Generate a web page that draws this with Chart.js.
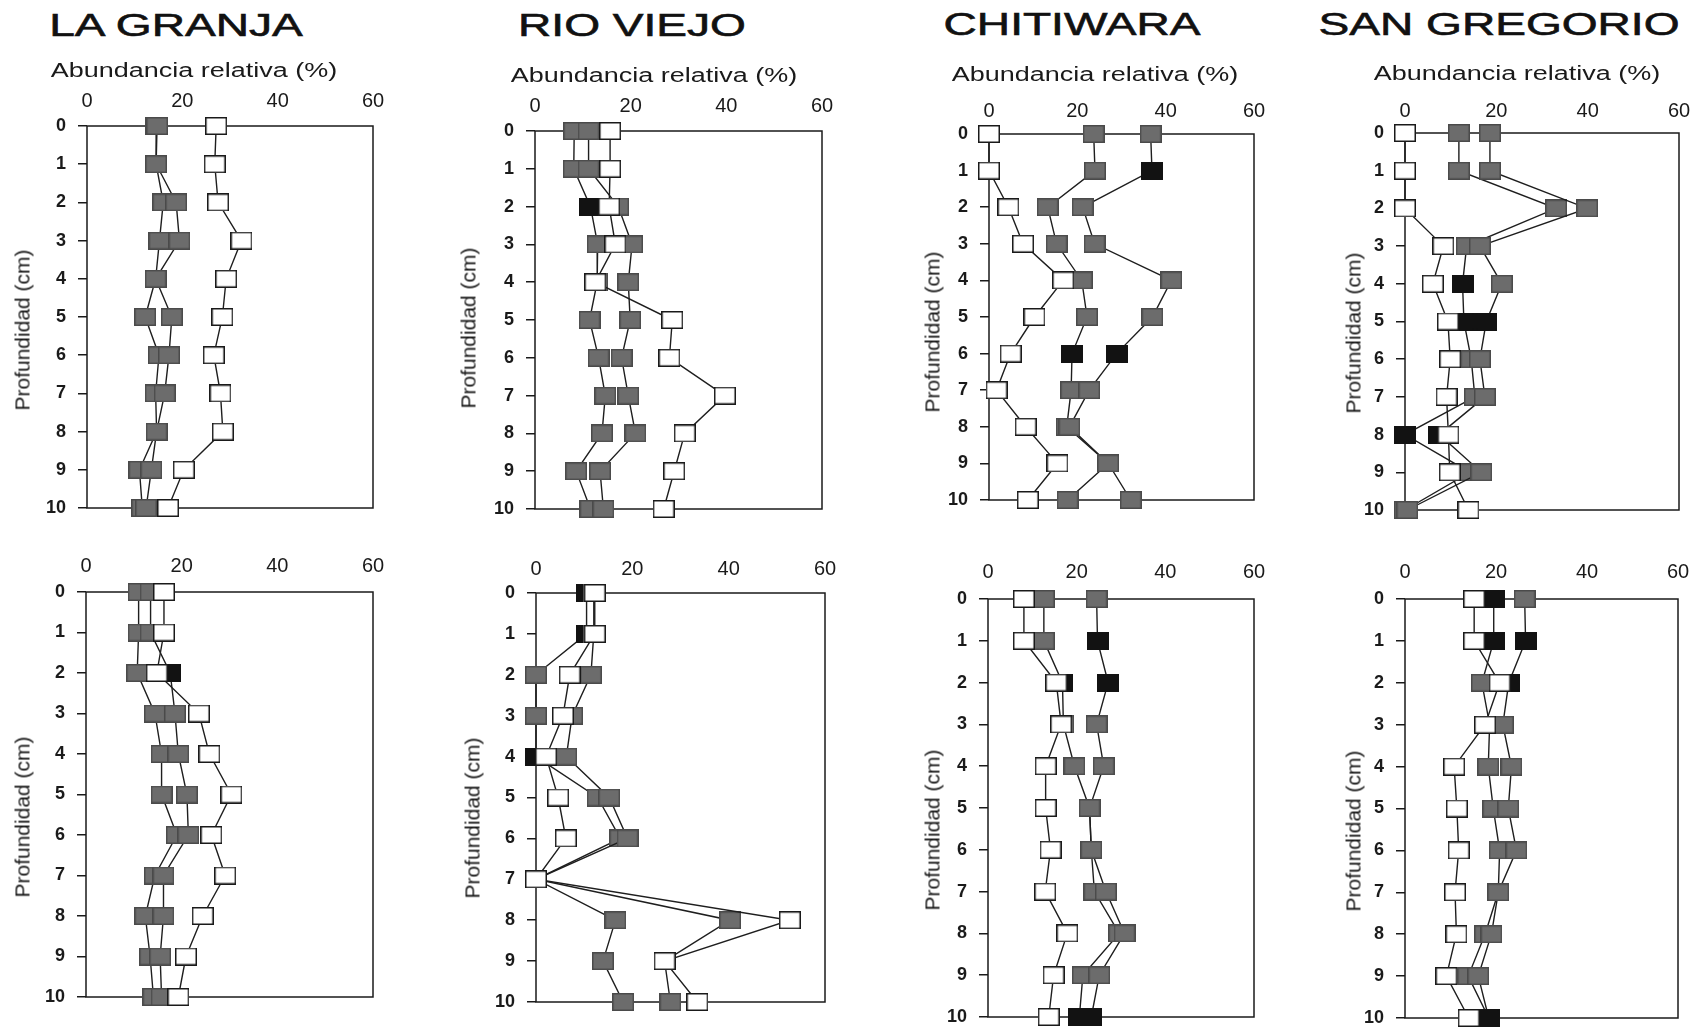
<!DOCTYPE html>
<html>
<head>
<meta charset="utf-8">
<title>Abundancia relativa por profundidad</title>
<script src="https://cdn.jsdelivr.net/npm/chart.js@4.4.1/dist/chart.umd.min.js"></script>
<style>
    body { margin: 0; width: 1705px; height: 1029px; background: #fff; position: relative; overflow: hidden;
           font-family: 'Liberation Sans', Arial, sans-serif; color: #1a1a1a; }
    canvas { position: absolute; }
    .lbl { position: absolute; white-space: nowrap; line-height: 1; }
    .site { font-size: 32px; color: #111; -webkit-text-stroke: 0.6px #111; }
    .xtitle { font-size: 20px; }
    .ytitle { font-size: 21px; }
</style>
</head>
<body>

<script>
/* =========================================================
   DATA
========================================================= */
const depths = [0, 1, 2, 3, 4, 5, 6, 7, 8, 9, 10];
const xTicks = [0, 20, 40, 60];
const depthTicks = [0, 1, 2, 3, 4, 5, 6, 7, 8, 9, 10];

const siteNames = ['LA GRANJA', 'RIO VIEJO', 'CHITIWARA', 'SAN GREGORIO'];
const xAxisTitle = 'Abundancia relativa (%)';
const yAxisTitle = 'Profundidad (cm)';

// top row
const granjaTopWhite = [27.1, 26.8, 27.5, 32.4, 29.2, 28.4, 26.6, 28, 28.5, 20.3, 17];
const granjaTopGrayA = [14.5, 14.5, 16, 15.2, 14.4, 12.2, 15.1, 14.4, 14.6, 11, 11.6];
const granjaTopGrayB = [14.7, 14.5, 18.7, 19.4, 14.4, 17.8, 17.2, 16.3, 14.6, 13.5, 12.4];

const rioTopWhite = [15.7, 15.7, 15.5, 16.8, 12.6, 28.7, 28.1, 39.7, 31.3, 29.1, 26.9];
const rioTopGrayA = [8.2, 8.1, 11.6, 13.1, 13, 11.4, 13.3, 14.7, 14, 8.6, 11.6];
const rioTopGrayB = [11.2, 11.2, 17.4, 20.3, 19.5, 19.9, 18.1, 19.5, 21, 13.6, 14.3];

const chitiTopWhite = [0, 0, 4.4, 7.7, 16.8, 10.3, 4.9, 1.7, 8.3, 15.5, 8.8];
const chitiTopGrayA = [23.7, 24, 13.3, 15.3, 21, 22.2, 18.8, 18.6, 17.6, 27, 17.8];
const chitiTopGrayB = [36.6, 36.9, 21.2, 23.9, 41.3, 37, 28.9, 22.7, 18.2, 27, 32.1];

const gregTopWhite = [0, 0, 0, 8.4, 6.1, 9.4, 9.9, 9.1, 9.5, 9.8, 13.9];
const gregTopGrayA = [11.8, 11.8, 33.1, 13.5, 12.6, 12.9, 14.5, 15.3, 0, 14.2, 0];
const gregTopGrayB = [18.6, 18.6, 39.9, 16.4, 21.2, 17.8, 16.4, 17.5, 7.5, 16.7, 0.5];

// bottom row
const granjaBotWhite = [16.3, 16.3, 14.8, 23.6, 25.8, 30.4, 26.2, 29.1, 24.4, 20.9, 19.3];
const granjaBotGrayA = [11, 11, 10.7, 14.4, 15.8, 15.8, 19, 14.4, 12.4, 13.4, 14.1];
const granjaBotGrayB = [13.5, 13.5, 17.6, 18.6, 19.3, 21.1, 21.4, 16.2, 16.2, 15.5, 15.8];

const rioBotWhite = [12.2, 12.2, 7, 5.6, 2.1, 4.6, 6.2, 0, 52.7, 26.7, 33.5];
const rioBotGrayA = [10.5, 10.5, 0, 0, 0, 12.8, 17.5, 0, 16.5, 13.9, 18.1];
const rioBotGrayB = [12, 12, 11.4, 7.5, 6.3, 15.2, 19, 0, 40.3, 26.7, 27.9];

const chitiBotWhite = [8.1, 8.1, 15.4, 16.5, 13, 13, 14.1, 12.9, 17.9, 14.8, 13.7];
const chitiBotGrayA = [12.6, 12.6, 16.8, 17, 19.5, 22.9, 23.3, 24, 29.6, 21.4, 20.6];
const chitiBotGrayB = [24.5, 24.7, 27.1, 24.5, 26.1, 22.9, 23.3, 26.6, 30.8, 25.1, 23.3];

const gregBotWhite = [15.2, 15.2, 20.8, 17.6, 10.8, 11.4, 11.8, 11, 11.3, 9.1, 14];
const gregBotGrayA = [19.5, 19.5, 16.9, 18.6, 18.3, 19.4, 20.8, 20.5, 17.6, 13.9, 18.4];
const gregBotGrayB = [26.3, 26.5, 22.8, 21.5, 23.4, 22.7, 24.5, 20.5, 19, 16.1, 18.4];

/* =========================================================
   PANEL LAYOUT (plot box = [left, top, right, bottom] in page px)
   dark = depths whose marker prints solid black in the scan
========================================================= */
const panels = [
    { site: 0, box: [87, 126, 373, 508], tickPad: 5, xTitle: [194, 70], yTitle: [22, 330],
      white: granjaTopWhite, grayA: granjaTopGrayA, grayB: granjaTopGrayB, darkA: [], darkB: [] },
    { site: 1, box: [535, 131, 822, 509], tickPad: 5, xTitle: [654, 75], yTitle: [468, 328],
      white: rioTopWhite, grayA: rioTopGrayA, grayB: rioTopGrayB, darkA: [2], darkB: [] },
    { site: 2, box: [989, 134, 1254, 500], tickPad: 3, xTitle: [1095, 74], yTitle: [932, 332],
      white: chitiTopWhite, grayA: chitiTopGrayA, grayB: chitiTopGrayB, darkA: [6], darkB: [1, 6] },
    { site: 3, box: [1405, 133, 1679, 510], tickPad: 2, xTitle: [1517, 73], yTitle: [1353, 333],
      white: gregTopWhite, grayA: gregTopGrayA, grayB: gregTopGrayB, darkA: [4, 5, 8], darkB: [5, 8] },

    { box: [86, 592, 373, 997], tickPad: 6, yTitle: [22, 817],
      white: granjaBotWhite, grayA: granjaBotGrayA, grayB: granjaBotGrayB, darkA: [], darkB: [2] },
    { box: [536, 593, 825, 1002], tickPad: 4, yTitle: [472, 818],
      white: rioBotWhite, grayA: rioBotGrayA, grayB: rioBotGrayB, darkA: [0, 1, 4], darkB: [] },
    { box: [988, 599, 1254, 1017], tickPad: 7, yTitle: [932, 830],
      white: chitiBotWhite, grayA: chitiBotGrayA, grayB: chitiBotGrayB, darkA: [2, 10], darkB: [1, 2, 10] },
    { box: [1405, 599, 1678, 1018], tickPad: 7, yTitle: [1353, 831],
      white: gregBotWhite, grayA: gregBotGrayA, grayB: gregBotGrayB, darkA: [0, 1, 10], darkB: [1, 2, 10] }
];

const AXIS_W = 80;   // room for depth labels + tick marks
const AXIS_H = 60;   // room for top tick labels
const PAD_R = 24;
const PAD_B = 26;

/* =========================================================
   MARKERS - the printed squares are a bit wider than tall
========================================================= */
function makeMarker(fill, stroke) {
    const c = document.createElement('canvas');
    c.width = 22;
    c.height = 18;
    const g = c.getContext('2d');
    g.fillStyle = fill;
    g.fillRect(0, 0, 22, 18);
    g.strokeStyle = stroke;
    g.lineWidth = 1.5;
    g.strokeRect(0.75, 0.75, 20.5, 16.5);
    return c;
}

const markerWhite = makeMarker('#ffffff', '#1a1a1a');
const markerGray = makeMarker('#6c6c6c', '#4a4a4a');
const markerDark = makeMarker('#121212', '#121212');

// frame around the plot area, drawn under the markers
const panelBox = {
    id: 'panelBox',
    beforeDatasetsDraw(chart) {
        const a = chart.chartArea;
        const c = chart.ctx;
        c.save();
        c.strokeStyle = '#1a1a1a';
        c.lineWidth = 1.5;
        c.strokeRect(a.left, a.top, a.right - a.left, a.bottom - a.top);
        c.restore();
    }
};

function addLabel(text, cls, cx, cy, transform) {
    const el = document.createElement('div');
    el.className = 'lbl ' + cls;
    el.textContent = text;
    el.style.left = cx + 'px';
    el.style.top = cy + 'px';
    el.style.transform = 'translate(-50%, -50%) ' + transform;
    document.body.appendChild(el);
}

function series(values, marker, dark, order) {
    return {
        data: values.map((v, i) => ({ x: v, y: depths[i] })),
        showLine: true,
        borderColor: '#1e1e1e',
        borderWidth: 1.4,
        tension: 0,
        clip: false,
        order: order,
        pointStyle: ctx => (dark.includes(depths[ctx.dataIndex]) ? markerDark : marker),
        pointRadius: 10,
        pointHoverRadius: 10
    };
}

function buildPanel(p) {
    const [L, T, R, B] = p.box;
    const canvas = document.createElement('canvas');
    const w = (R - L) + AXIS_W + PAD_R;
    const h = (B - T) + AXIS_H + PAD_B;
    canvas.width = w;
    canvas.height = h;
    canvas.style.left = (L - AXIS_W) + 'px';
    canvas.style.top = (T - AXIS_H) + 'px';
    canvas.style.width = w + 'px';
    canvas.style.height = h + 'px';
    document.body.appendChild(canvas);

    new Chart(canvas.getContext('2d'), {
        type: 'scatter',
        data: {
            datasets: [
                series(p.white, markerWhite, [], 0),
                series(p.grayB, markerGray, p.darkB, 1),
                series(p.grayA, markerGray, p.darkA, 2)
            ]
        },
        options: {
            responsive: false,
            animation: false,
            events: [],
            layout: { padding: { left: 0, top: 0, right: PAD_R, bottom: PAD_B } },
            plugins: { legend: { display: false }, tooltip: { enabled: false } },
            scales: {
                x: {
                    type: 'linear',
                    position: 'top',
                    min: 0,
                    max: 60,
                    afterBuildTicks: s => { s.ticks = xTicks.map(v => ({ value: v })); },
                    afterFit: s => { s.height = AXIS_H; },
                    ticks: { padding: p.tickPad, color: '#1a1a1a', font: { size: 20 } },
                    grid: { display: false },
                    border: { display: false }
                },
                y: {
                    type: 'linear',
                    reverse: true,
                    min: 0,
                    max: 10,
                    afterBuildTicks: s => { s.ticks = depthTicks.map(v => ({ value: v })); },
                    afterFit: s => { s.width = AXIS_W; },
                    ticks: { padding: 12, color: '#1a1a1a', font: { size: 18, weight: 'bold' } },
                    grid: { drawOnChartArea: false, drawTicks: true, tickLength: 9, color: '#1a1a1a', lineWidth: 1.5 },
                    border: { display: false }
                }
            }
        },
        plugins: [panelBox]
    });

    if (p.site !== undefined) {
        addLabel(xAxisTitle, 'xtitle', p.xTitle[0], p.xTitle[1], 'scaleX(1.35)');
    }
    addLabel(yAxisTitle, 'ytitle', p.yTitle[0], p.yTitle[1], 'rotate(-90deg)');
}

function initFigure() {
    Chart.defaults.font.family = "'Liberation Sans', Arial, sans-serif";
    Chart.defaults.color = '#1a1a1a';

    // site names over the top row (the scan is stretched sideways)
    const siteCenters = [[176, 25], [632, 25], [1072, 24], [1499, 24]];
    siteNames.forEach((name, i) => addLabel(name, 'site', siteCenters[i][0], siteCenters[i][1], 'scaleX(1.44)'));

    panels.forEach(buildPanel);
}

initFigure();
</script>
</body>
</html>
